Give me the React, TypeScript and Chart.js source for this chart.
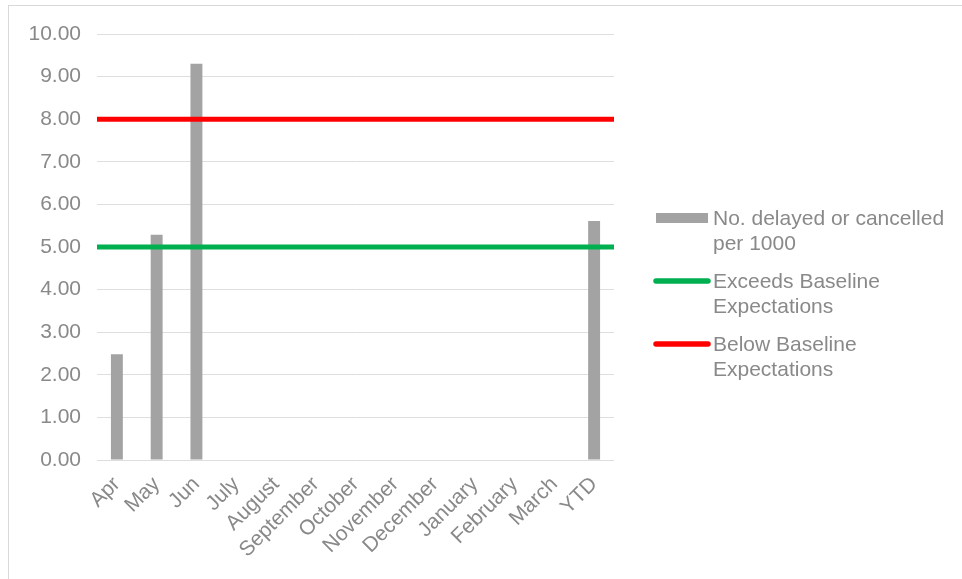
import React, { useEffect, useRef } from "react";
import { Chart, registerables } from "chart.js";

Chart.register(...registerables);

const categories = ["Apr", "May", "Jun", "July", "August", "September", "October", "November", "December", "January", "February", "March", "YTD"];
const delayedValues = [2.48, 5.29, 9.3, null, null, null, null, null, null, null, null, null, 5.61];
const exceedsBaseline = 5;
const belowBaseline = 8;
const yTicksMin = 0;
const yTicksMax = 10;
const yTickStep = 1;

const seriesNames = ["No. delayed or cancelled per 1000", "Exceeds Baseline Expectations", "Below Baseline Expectations"];
const legendLines = [["No. delayed or cancelled", "per 1000"], ["Exceeds Baseline", "Expectations"], ["Below Baseline", "Expectations"]];

const TEXT = "#898989";
const FONT = "Liberation Sans, Arial, sans-serif";
const BAR = "#a3a3a3";
const GREEN = "#00b050";
const RED = "#ff0000";

const legendPlugin = {
  id: "customLegend",
  afterDraw(chart: any) {
    const ctx = chart.ctx;
    ctx.save();
    ctx.font = `21px ${FONT}`;
    ctx.fillStyle = TEXT;
    ctx.textBaseline = "middle";
    ctx.textAlign = "left";
    const items = [
      { y: 218, kind: "bar", color: BAR },
      { y: 281, kind: "line", color: GREEN },
      { y: 344, kind: "line", color: RED },
    ];
    items.forEach((it, i) => {
      if (it.kind === "bar") {
        ctx.fillStyle = it.color;
        ctx.fillRect(656, it.y - 5, 52, 10);
      } else {
        ctx.strokeStyle = it.color;
        ctx.lineWidth = 5.5;
        ctx.lineCap = "round";
        ctx.beginPath();
        ctx.moveTo(656, it.y);
        ctx.lineTo(708, it.y);
        ctx.stroke();
      }
      ctx.fillStyle = TEXT;
      legendLines[i].forEach((t, j) => {
        ctx.fillText(t, 713, it.y + 1 + j * 25);
      });
    });
    ctx.restore();
  },
};

export default function App() {
  const ref = useRef<HTMLCanvasElement>(null);
  useEffect(() => {
    if (!ref.current) return;
    const chart = new Chart(ref.current, {
      type: "bar",
      data: {
        labels: categories,
        datasets: [
          {
            type: "line",
            label: seriesNames[2],
            data: [{ x: 0, y: belowBaseline }, { x: 1, y: belowBaseline }],
            xAxisID: "x2",
            borderColor: RED,
            backgroundColor: RED,
            borderWidth: 5,
            pointRadius: 0,
            order: 0,
          } as any,
          {
            type: "line",
            label: seriesNames[1],
            data: [{ x: 0, y: exceedsBaseline }, { x: 1, y: exceedsBaseline }],
            xAxisID: "x2",
            borderColor: GREEN,
            backgroundColor: GREEN,
            borderWidth: 5,
            pointRadius: 0,
            order: 1,
          } as any,
          {
            type: "bar",
            label: seriesNames[0],
            data: delayedValues,
            xAxisID: "x",
            backgroundColor: BAR,
            barPercentage: 0.3,
            categoryPercentage: 1,
            grouped: false,
            order: 2,
          } as any,
        ],
      },
      options: {
        animation: false,
        responsive: false,
        devicePixelRatio: 1,
        layout: { padding: { left: 0, top: 34, right: 348, bottom: 0 } },
        plugins: { legend: { display: false }, tooltip: { enabled: false } },
        scales: {
          x: {
            type: "category",
            offset: true,
            grid: { display: false },
            border: { display: false },
            ticks: {
              color: TEXT,
              font: { family: FONT, size: 21 },
              minRotation: 45,
              maxRotation: 45,
              autoSkip: false,
              padding: 4,
            },
            afterFit: (s: any) => {
              s.height = 119;
            },
          },
          x2: {
            type: "linear",
            display: false,
            offset: false,
            grid: { offset: false },
            min: 0,
            max: 1,
          },
          y: {
            min: yTicksMin,
            max: yTicksMax,
            border: { display: false },
            grid: { color: "#dedede", lineWidth: 1, drawTicks: false },
            ticks: {
              stepSize: yTickStep,
              color: TEXT,
              font: { family: FONT, size: 21 },
              padding: 16,
              callback: (v: any) => Number(v).toFixed(2),
            },
            afterFit: (s: any) => {
              s.width = 97;
            },
          },
        },
      } as any,
      plugins: [legendPlugin],
    });
    return () => chart.destroy();
  }, []);
  return (
    <>
      <div
        style={{
          position: "fixed",
          left: 8,
          top: 5,
          width: 1000,
          height: 1000,
          border: "1.5px solid #d9d9d9",
          pointerEvents: "none",
        }}
      />
      <canvas
        ref={ref}
        width={962}
        height={579}
        style={{ position: "fixed", left: 0, top: 0, width: 962, height: 579 }}
      />
    </>
  );
}
